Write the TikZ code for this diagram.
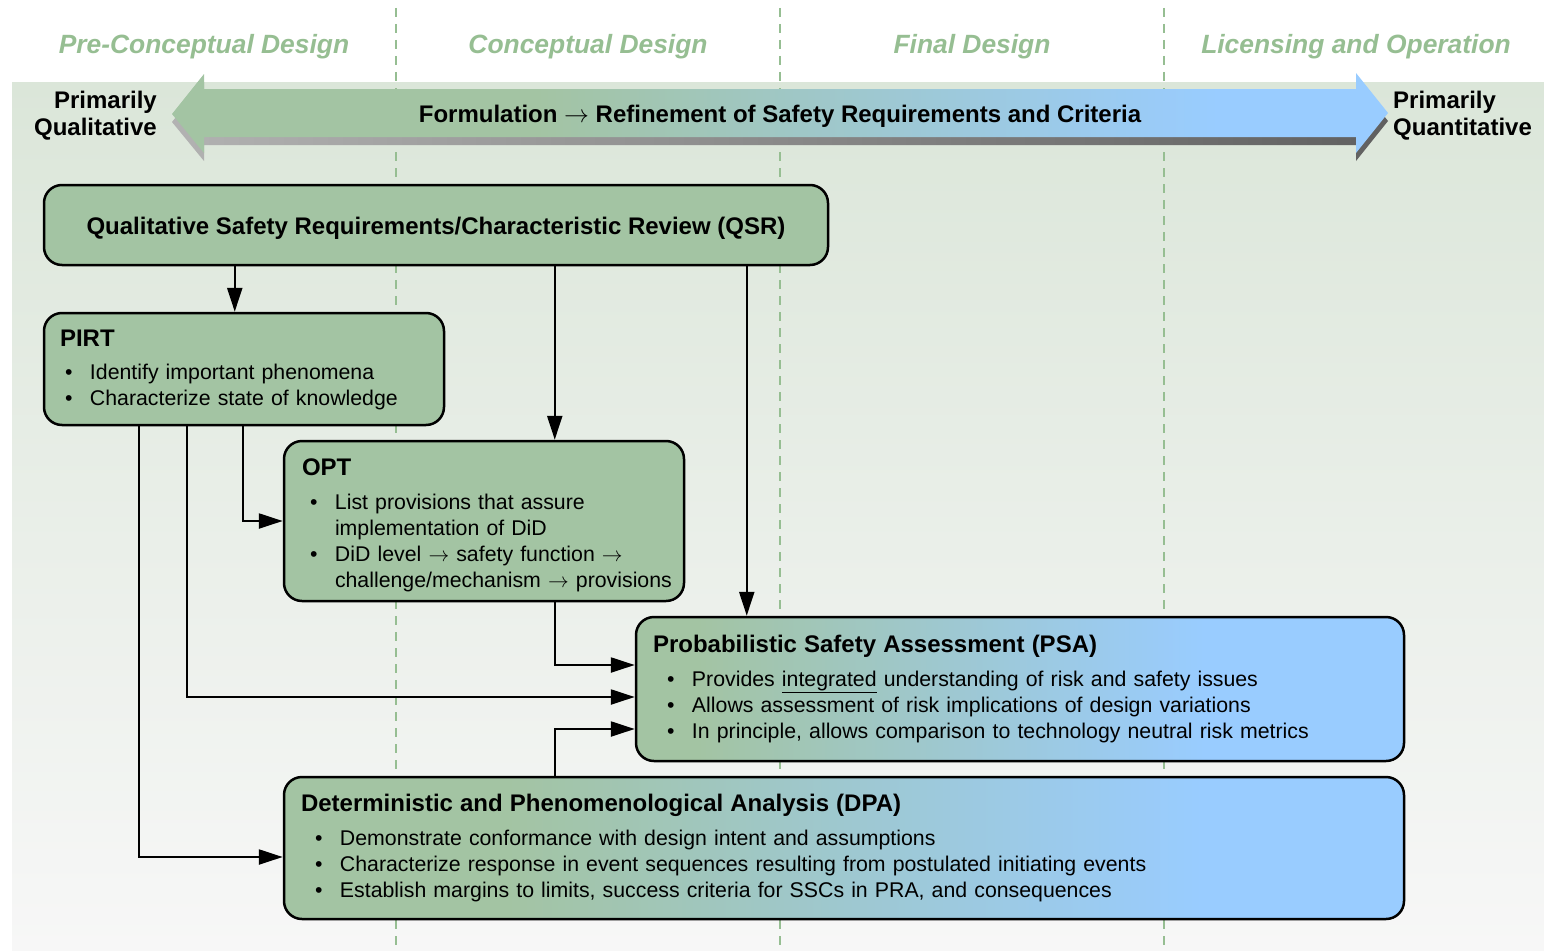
\documentclass[tikz,border=0pt]{standalone}
\usepackage{fontspec}
\setmainfont{Liberation Sans}
\usetikzlibrary{arrows.meta}
\definecolor{qgreen}{RGB}{163,196,163}
\definecolor{qblue}{RGB}{153,204,255}
\definecolor{phasegreen}{RGB}{150,190,146}
\definecolor{bgtop}{RGB}{219,230,217}
\definecolor{bgbot}{RGB}{247,247,247}
\definecolor{shadelight}{RGB}{178,178,178}
\definecolor{shadedark}{RGB}{96,96,96}
\pgfdeclarehorizontalshading{bandshade}{100bp}{color(0bp)=(qgreen); color(40bp)=(qgreen); color(68bp)=(qblue); color(100bp)=(qblue)}
\pgfdeclarehorizontalshading{psashade}{100bp}{color(0bp)=(qgreen); color(29bp)=(qgreen); color(62bp)=(qblue); color(100bp)=(qblue)}
\pgfdeclarehorizontalshading{dpashade}{100bp}{color(0bp)=(qgreen); color(35bp)=(qgreen); color(66bp)=(qblue); color(100bp)=(qblue)}
\newcommand{\itm}[1][5pt]{\hspace*{#1}\makebox[25pt][l]{\textbullet}}
\newcommand{\cont}[1][5pt]{\hspace*{#1}\hspace*{25pt}}
\newcommand{\boxttl}[1]{{\fontsize{24}{27}\selectfont\bfseries #1}}

\begin{document}
\begin{tikzpicture}[x=1pt, y=-1pt,
    every node/.append style={inner sep=0pt, font=\fontsize{21.3}{26}\selectfont},
    box/.style={draw, line width=2.5pt, rounded corners=18pt, fill=qgreen, inner xsep=17pt, align=left},
    ttl/.style={font=\fontsize{24}{27}\selectfont\bfseries},
    phase/.style={text=phasegreen, font=\fontsize{26.4}{30}\selectfont\bfseries\itshape},
    phaseline/.style={phasegreen, line width=2pt, dash pattern=on 9pt off 7pt},
    flow/.style={line width=2.3pt, -{Triangle[length=24pt,width=15pt]}}]
  \useasboundingbox (0,0) rectangle (1544,950);
  \shade[top color=bgtop, bottom color=bgbot] (12,82) rectangle (1544,950);
  \foreach \x in {396,780,1164}
    \draw[phaseline] (\x,8) -- (\x,950);
  \foreach \x/\t [count=\i] in {204/Pre-Conceptual Design, 588/Conceptual Design,
      972/Final Design, 1356/Licensing and Operation}
    \node[phase] (ph\i) at (\x,47) {\t};

  % double arrow band
  \shade[left color=shadelight, right color=shadedark] (172,122) -- (204,82) -- (204,97) -- (1356,97) -- (1356,81)
    -- (1388,121) -- (1356,161) -- (1356,145) -- (204,145) -- (204,161) -- cycle;
  \shade[shading=bandshade] (172,114) -- (204,74) -- (204,89) -- (1356,89) -- (1356,73)
    -- (1388,113) -- (1356,153) -- (1356,137) -- (204,137) -- (204,153) -- cycle;
  \node[ttl] (band) at (780,116) {Formulation $\rightarrow$ Refinement of Safety Requirements and Criteria};
  \node[ttl, anchor=east, align=right] (qual) at (157,116) {Primarily\\Qualitative};
  \node[ttl, anchor=west, align=left] (quant) at (1393,116) {Primarily\\Quantitative};

  % boxes
  \node[box, ttl, align=center, text height=20pt, text depth=2pt, minimum width=784pt, minimum height=80pt] (qsr) at (436,225)
    {Qualitative Safety Requirements/Characteristic Review (QSR)};
  \node[box, inner xsep=16pt, text width=368pt, minimum height=112pt] (pirt) at (244,369)
    {\boxttl{\rule{0pt}{19pt}PIRT}\\[7pt]
     \itm Identify important phenomena\\
     \itm Characterize state of knowledge};
  \node[box, inner xsep=18pt, text width=364pt, minimum height=160pt] (opt) at (484,521)
    {\boxttl{\rule{0pt}{25pt}OPT}\\[8pt]
     \itm[8pt]List provisions that assure\\
     \cont[8pt]implementation of DiD\\
     \itm[8pt]DiD level $\rightarrow$ safety function $\rightarrow$\\
     \cont[8pt]\mbox{challenge/mechanism $\rightarrow$ provisions}};
  \node[box, shading=psashade, text width=734pt, minimum height=144pt] (psa) at (1020,689)
    {\boxttl{Probabilistic Safety Assessment (PSA)}\\[8pt]
     \itm[14pt]Provides \underline{integrated} understanding of risk and safety issues\\
     \itm[14pt]Allows assessment of risk implications of design variations\\
     \itm[14pt]In principle, allows comparison to technology neutral risk metrics};
  \node[box, shading=dpashade, text width=1086pt, minimum height=142pt] (dpa) at (844,848)
    {\boxttl{Deterministic and Phenomenological Analysis (DPA)}\\[8pt]
     \itm[14pt]Demonstrate conformance with design intent and assumptions\\
     \itm[14pt]Characterize response in event sequences resulting from postulated initiating events\\
     \itm[14pt]Establish margins to limits, success criteria for SSCs in PRA, and consequences};

  % connectors
  \draw[flow] ([xshift=192]qsr.south west) -- ([xshift=192]qsr.south west |- pirt.north);
  \draw[flow] ([xshift=512]qsr.south west) -- ([xshift=512]qsr.south west |- opt.north);
  \draw[flow] ([xshift=704]qsr.south west) -- ([xshift=704]qsr.south west |- psa.north);
  \draw[flow] ([xshift=200]pirt.south west) |- (opt.west);
  \draw[flow] ([xshift=144]pirt.south west) |- ([yshift=-8]psa.west);
  \draw[flow] ([xshift=96]pirt.south west) |- ([yshift=-9]dpa.west);
  \draw[flow] ([xshift=272]opt.south west) |- ([yshift=24]psa.west);
  \draw[flow] ([xshift=272]dpa.north west) |- ([yshift=-40]psa.west);
\end{tikzpicture}
\end{document}
